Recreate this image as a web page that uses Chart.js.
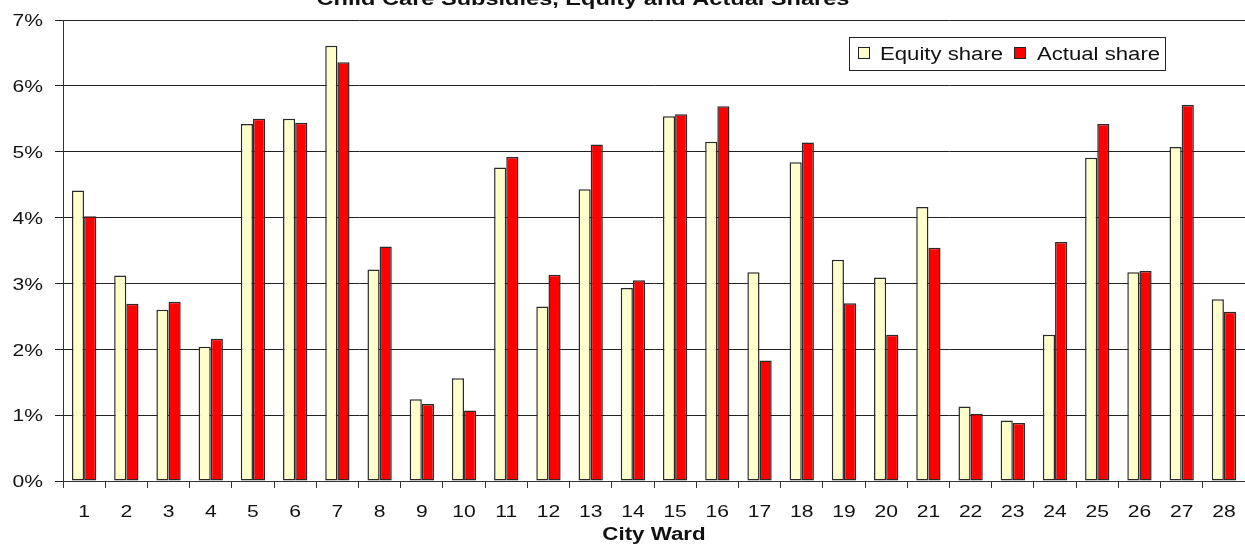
<!DOCTYPE html>
<html>
<head>
<meta charset="utf-8">
<title>Child Care Subsidies, Equity and Actual Shares</title>
<script src="https://cdn.jsdelivr.net/npm/chart.js@4.4.1/dist/chart.umd.min.js"></script>
<style>
  html, body { margin: 0; padding: 0; background: #ffffff; overflow: hidden; }
  #wrap { position: relative; width: 1245px; height: 544px; }
</style>
</head>
<body>
<div id="wrap"><canvas id="chart"></canvas></div>
<script>
// City wards 1..28
const wards = ['1','2','3','4','5','6','7','8','9','10','11','12','13','14',
               '15','16','17','18','19','20','21','22','23','24','25','26','27','28'];

// Share of child care subsidies per ward, in percent
const equityShare = [4.41, 3.12, 2.60, 2.04, 5.42, 5.50, 6.61, 3.21, 1.24, 1.56,
                     4.76, 2.65, 4.43, 2.93, 5.54, 5.15, 3.17, 4.84, 3.36, 3.09,
                     4.16, 1.13, 0.92, 2.22, 4.91, 3.17, 5.07, 2.76];
const actualShare = [4.02, 2.69, 2.72, 2.16, 5.50, 5.44, 6.36, 3.56, 1.17, 1.07,
                     4.92, 3.13, 5.11, 3.05, 5.57, 5.69, 1.83, 5.14, 2.70, 2.22,
                     3.54, 1.02, 0.88, 3.63, 5.42, 3.19, 5.71, 2.57];

// Value axis ticks and their labels
const yTickValues = [0, 1, 2, 3, 4, 5, 6, 7];
const yTickLabels = ['0%', '1%', '2%', '3%', '4%', '5%', '6%', '7%'];

const chartTitle = 'Child Care Subsidies, Equity and Actual Shares';
const xAxisTitle = 'City Ward';
const seriesNames = ['Equity share', 'Actual share'];

const FONT = '"Liberation Sans", Arial, sans-serif';
const INK = '#111111';
const STRETCH = 1.24;

// Draws text widened horizontally, like the rest of this chart's lettering
function wideText(ctx, text, x, y, align, font, sx) {
  ctx.save();
  ctx.font = font;
  ctx.fillStyle = INK;
  ctx.textAlign = align;
  ctx.textBaseline = 'alphabetic';
  ctx.translate(x, y);
  ctx.scale(sx, 1);
  ctx.fillText(text, 0, 0);
  ctx.restore();
}

const textPlugin = {
  id: 'wardText',
  beforeDraw(chart) {
    const ctx = chart.ctx;
    ctx.save();
    ctx.fillStyle = '#ffffff';
    ctx.fillRect(0, 0, chart.width, chart.height);
    ctx.restore();
  },
  afterDraw(chart) {
    const ctx = chart.ctx;
    const xs = chart.scales.x;
    const ys = chart.scales.y;
    const area = chart.chartArea;

    // value axis labels
    yTickValues.forEach((v, i) => {
      const y = ys.getPixelForValue(v);
      wideText(ctx, yTickLabels[i], 43, y + 6.3, 'right', '17px ' + FONT, STRETCH);
    });

    // ward labels
    wards.forEach((w, i) => {
      const x = xs.getPixelForTick(i);
      wideText(ctx, w, x, area.bottom + 36, 'center', '17px ' + FONT, STRETCH);
    });

    // axis title and chart title
    wideText(ctx, xAxisTitle, (area.left + area.right) / 2, 540, 'center', 'bold 18px ' + FONT, STRETCH);
    wideText(ctx, chartTitle, 583, 5, 'center', 'bold 19px ' + FONT, STRETCH);

    // legend box
    const bx = 849, by = 37, bw = 316, bh = 33;
    ctx.save();
    ctx.fillStyle = '#ffffff';
    ctx.fillRect(bx, by, bw, bh);
    ctx.strokeStyle = '#222222';
    ctx.lineWidth = 1;
    ctx.strokeRect(bx + 0.5, by + 0.5, bw, bh);
    const items = [{sx: 858, tx: 880}, {sx: 1014, tx: 1037}];
    chart.data.datasets.forEach((ds, i) => {
      const it = items[i];
      ctx.fillStyle = ds.backgroundColor;
      ctx.fillRect(it.sx, 47, 11, 11);
      ctx.strokeStyle = '#222222';
      ctx.strokeRect(it.sx + 0.5, 47.5, 11, 11);
      wideText(ctx, ds.label, it.tx, 60, 'left', '18px ' + FONT, 1.23);
    });
    ctx.restore();
  }
};

new Chart(document.getElementById('chart'), {
  type: 'bar',
  data: {
    labels: wards,
    datasets: [
      {
        label: seriesNames[0],
        data: equityShare,
        backgroundColor: '#FFFFCC',
        borderColor: '#2a2a2a',
        borderWidth: 1.5,
        borderSkipped: false,
        categoryPercentage: 0.576,
        barPercentage: 1.0
      },
      {
        label: seriesNames[1],
        data: actualShare,
        backgroundColor: '#FF0000',
        borderColor: '#2a2a2a',
        borderWidth: 1.5,
        borderSkipped: false,
        categoryPercentage: 0.576,
        barPercentage: 1.0
      }
    ]
  },
  options: {
    responsive: true,
    maintainAspectRatio: false,
    animation: false,
    devicePixelRatio: 1,
    layout: { padding: { top: 20, right: 0, left: 0, bottom: 0 } },
    plugins: {
      legend: { display: false },
      title: { display: false },
      tooltip: { enabled: false }
    },
    scales: {
      x: {
        offset: true,
        grid: {
          offset: true,
          drawOnChartArea: false,
          drawTicks: true,
          tickLength: 7,
          color: '#333333',
          lineWidth: 1
        },
        border: { display: true, color: '#333333', width: 1 },
        ticks: { display: false },
        afterFit(scale) { scale.height = 63; }
      },
      y: {
        min: 0,
        max: 7,
        afterBuildTicks(scale) {
          scale.ticks = yTickValues.map(v => ({ value: v }));
        },
        grid: {
          drawOnChartArea: true,
          drawTicks: true,
          tickLength: 8,
          color: '#222222',
          lineWidth: 1
        },
        border: { display: true, color: '#333333', width: 1 },
        ticks: { display: false },
        afterFit(scale) { scale.width = 63; }
      }
    }
  },
  plugins: [textPlugin]
});
</script>
</body>
</html>
